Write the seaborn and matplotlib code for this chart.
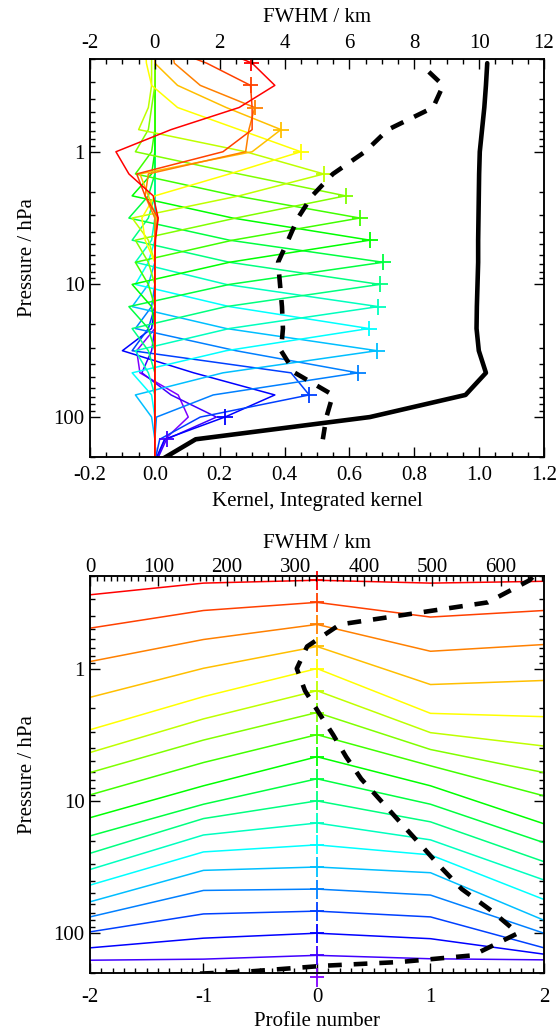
import colorsys
import numpy as np
import pandas as pd
import matplotlib
matplotlib.use("Agg")
import matplotlib.pyplot as plt
import seaborn as sns
from matplotlib.ticker import FixedLocator, MultipleLocator, NullFormatter, FormatStrFormatter, LogLocator

# ---------------- data: top panel (averaging kernels) ----------------
# kernel pressure grid (hPa), retrieval levels k = -5 .. 15
ak_pressure = [0.147, 0.215, 0.316, 0.464, 0.681, 1.0, 1.47, 2.15, 3.16, 4.64, 6.81,
               10.0, 14.7, 21.5, 31.6, 46.4, 68.1, 100.0, 147.0, 215.0, 316.0]
# nominal levels of the kernels (k = -4 .. 14)
kernel_levels = [0.215, 0.316, 0.464, 0.681, 1.0, 1.47, 2.15, 3.16, 4.64, 6.81,
                 10.0, 14.7, 21.5, 31.6, 46.4, 68.1, 100.0, 147.0, 215.0]

ak_k_m4 = [0.14, 0.30, 0.37, 0.26, 0.05, -0.12, -0.08, -0.005, 0.01, 0.002, 0, 0, 0, 0, 0, 0, 0, 0, 0, 0, 0]
ak_k_m3 = [-0.02, 0.16, 0.295, 0.30, 0.30, 0.21, -0.056, -0.03, 0.01, 0.0, 0, 0, 0, 0, 0, 0, 0, 0, 0, 0, 0]
ak_k_m2 = [0.05, 0.06, 0.14, 0.308, 0.29, 0.28, -0.02, -0.03, 0.0, 0.0, 0, 0, 0, 0, 0, 0, 0, 0, 0, 0, 0]
ak_k_m1 = [0.0, 0.0, 0.07, 0.22, 0.389, 0.30, -0.046, -0.02, 0.005, 0.0, 0, 0, 0, 0, 0, 0, 0, 0, 0, 0, 0]
ak_k_0 = [-0.03, -0.026, -0.01, 0.07, 0.26, 0.45, 0.23, 0.0, -0.04, -0.03, 0.0, 0, 0, 0, 0, 0, 0, 0, 0, 0, 0]
ak_k_1 = [-0.01, -0.01, -0.01, -0.02, -0.05, 0.28, 0.521, 0.26, -0.07, -0.02, 0.0, 0, 0, 0, 0, 0, 0, 0, 0, 0, 0]
ak_k_2 = [0, 0, 0, -0.01, -0.02, -0.06, 0.26, 0.588, 0.25, -0.06, -0.02, 0, 0, 0, 0, 0, 0, 0, 0, 0, 0]
ak_k_3 = [0, 0, 0, 0, 0, -0.01, -0.06, 0.25, 0.632, 0.24, -0.06, -0.02, 0, 0, 0, 0, 0, 0, 0, 0, 0]
ak_k_4 = [0, 0, 0, 0, 0, 0, -0.01, -0.07, 0.24, 0.663, 0.23, -0.07, -0.01, 0, 0, 0, 0, 0, 0, 0, 0]
ak_k_5 = [0, 0, 0, 0, 0, 0, 0, -0.02, -0.08, 0.23, 0.704, 0.23, -0.08, -0.02, 0, 0, 0, 0, 0, 0, 0]
ak_k_6 = [0, 0, 0, 0, 0, 0, 0, 0, -0.02, -0.07, 0.23, 0.694, 0.22, -0.07, -0.02, 0, 0, 0, 0, 0, 0]
ak_k_7 = [0, 0, 0, 0, 0, 0, 0, 0, 0, -0.01, -0.06, 0.22, 0.689, 0.23, -0.06, -0.02, 0, 0, 0, 0, 0]
ak_k_8 = [0, 0, 0, 0, 0, 0, 0, 0, 0, 0, -0.02, -0.06, 0.23, 0.660, 0.22, -0.07, -0.01, 0, 0, 0, 0]
ak_k_9 = [0, 0, 0, 0, 0, 0, 0, 0, 0, 0, 0, -0.02, -0.07, 0.22, 0.685, 0.21, -0.06, -0.01, 0, 0, 0]
ak_k_10 = [0, 0, 0, 0, 0, 0, 0, 0, 0, 0, 0, 0, -0.01, -0.06, 0.25, 0.626, 0.18, 0.005, 0.0, 0, 0]
ak_k_11 = [0, 0, 0, 0, 0, 0, 0, 0, 0, 0, 0, 0, 0, -0.02, -0.07, 0.42, 0.476, 0.14, 0.015, 0.0, 0]
ak_k_12 = [0, 0, 0, 0, 0, 0, 0, 0, 0, 0, 0, 0, 0, -0.01, -0.10, 0.12, 0.37, 0.216, 0.03, 0.0, 0]
ak_k_13 = [0, 0, 0, 0, 0, 0, 0, 0, 0, 0, 0, 0, 0, 0, -0.01, -0.04, 0.05, 0.19, 0.036, 0.005, 0]
ak_k_14 = [0, 0, 0, 0, 0, 0, 0, 0, 0, 0, 0, 0, 0, 0, -0.056, -0.046, 0.072, 0.103, 0.031, 0.003, 0]

kernels = [ak_k_m4, ak_k_m3, ak_k_m2, ak_k_m1, ak_k_0, ak_k_1, ak_k_2, ak_k_3, ak_k_4,
           ak_k_5, ak_k_6, ak_k_7, ak_k_8, ak_k_9, ak_k_10, ak_k_11, ak_k_12, ak_k_13, ak_k_14]

# diagonal (cross) values, k = -4 .. 13
cross_value = [0.298, 0.295, 0.308, 0.389, 0.45, 0.521, 0.588, 0.632, 0.663, 0.704,
               0.694, 0.689, 0.660, 0.685, 0.626, 0.476, 0.216, 0.036]

# integrated kernel, k = -4 .. 14
integrated_kernel = [1.025, 1.021, 1.016, 1.009, 1.002, 1.000, 0.999, 0.998, 0.997, 0.997,
                     0.995, 0.993, 0.992, 0.999, 1.021, 0.958, 0.663, 0.126, 0.012]

# vertical resolution (FWHM, km) for the top panel
fwhm_top_p = [0.25, 0.316, 0.464, 0.681, 1.0, 1.47, 2.15, 3.16, 4.64, 6.81,
              10.0, 14.7, 21.5, 31.6, 46.4, 68.1, 100.0, 147.0]
fwhm_top_km = [8.45, 8.89, 8.58, 7.19, 6.48, 5.49, 4.85, 4.41, 4.11, 3.80,
               3.86, 3.92, 3.95, 3.89, 4.32, 5.49, 5.29, 5.18]

# ---------------- data: bottom panel (horizontal) ----------------
profile_numbers = [-2, -1, 0, 1, 2]
lev_prof_m2 = [0.277, 0.495, 0.885, 1.65, 2.90, 4.31, 6.11, 9.01, 13.4, 18.4,
               24.9, 33.0, 43.3, 57.9, 75.3, 97.7, 129.0, 160.0]
lev_prof_m1 = [0.226, 0.364, 0.603, 0.995, 1.63, 2.40, 3.47, 5.13, 7.69, 10.6,
               13.6, 18.1, 24.3, 33.5, 47.5, 71.5, 109.0, 157.0]
lev_prof_0 = [0.215, 0.316, 0.464, 0.681, 1.0, 1.47, 2.15, 3.16, 4.64, 6.81,
              10.0, 14.7, 21.5, 31.6, 46.4, 68.1, 100.0, 147.0]
lev_prof_p1 = [0.226, 0.408, 0.740, 1.32, 2.18, 3.05, 4.09, 5.43, 7.69, 10.6,
               14.4, 19.7, 25.6, 34.9, 51.5, 75.3, 110.0, 156.0]
lev_prof_p2 = [0.219, 0.364, 0.658, 1.23, 2.31, 3.85, 6.11, 9.16, 14.9, 20.7,
               28.8, 39.6, 55.6, 79.8, 100.0, 129.0, 144.0, 159.0]

fwhm_bot_p = [0.147, 0.215, 0.316, 0.464, 0.681, 1.0, 1.47, 2.15, 3.16, 4.64, 6.81,
              10.0, 14.7, 21.5, 31.6, 46.4, 68.1, 100.0, 147.0, 165.0, 176.0, 194.0, 208.0]
fwhm_bot_km = [672, 642, 581, 365, 317, 302, 314, 334, 355, 374, 396,
               425, 454, 483, 512, 543, 587, 625, 559, 453, 343, 236, 107]

# ---------------- style ----------------
sns.set_theme(style="white")
plt.rcParams['font.family'] = ['Liberation Serif', 'DejaVu Serif']
plt.rcParams['axes.unicode_minus'] = False
plt.rcParams['axes.edgecolor'] = 'black'
plt.rcParams['text.color'] = 'black'
plt.rcParams['axes.labelcolor'] = 'black'
plt.rcParams['xtick.color'] = 'black'
plt.rcParams['ytick.color'] = 'black'

FS = 15
n_k = len(kernel_levels)
colors = [colorsys.hsv_to_rgb(15.0 * i / 360.0, 1.0, 1.0) for i in range(n_k)]
level_ids = list(range(-4, 15))
palette = {lv: colors[i] for i, lv in enumerate(level_ids)}

fig = plt.figure(figsize=(5.6, 10.3), dpi=100)
ax1 = fig.add_axes([0.1607, 0.5563, 0.8107, 0.3864])
ax2 = fig.add_axes([0.1607, 0.0553, 0.8107, 0.3854])


def style_axes(ax, xlabel_bottom, xpad, xlabelpad):
    ax.set_yscale('log')
    ax.set_ylim(200, 0.2)
    ax.yaxis.set_major_locator(FixedLocator([1, 10, 100]))
    ax.yaxis.set_major_formatter(FormatStrFormatter('%g'))
    ax.yaxis.set_minor_locator(LogLocator(base=10, subs=np.arange(2, 10)))
    ax.yaxis.set_minor_formatter(NullFormatter())
    ax.tick_params(axis='both', which='both', direction='in', labelsize=FS,
                   top=False, right=True, left=True, bottom=True, width=1.0, pad=4)
    ax.tick_params(axis='x', which='both', pad=xpad)
    ax.tick_params(which='major', length=7)
    ax.tick_params(which='minor', length=3.5)
    for s in ax.spines.values():
        s.set_linewidth(1.1)
        s.set_color('black')
    ax.set_ylabel('Pressure / hPa', fontsize=FS, labelpad=12)
    ax.set_xlabel(xlabel_bottom, fontsize=FS, labelpad=xlabelpad)


def style_top(axt, pad, labelpad):
    axt.tick_params(axis='x', which='both', direction='in', labelsize=FS,
                    top=True, bottom=False, width=1.0, pad=pad)
    axt.tick_params(which='major', length=7)
    axt.tick_params(which='minor', length=3.5)
    axt.set_xlabel('FWHM / km', fontsize=FS, labelpad=labelpad)
    for s in axt.spines.values():
        s.set_linewidth(1.1)
        s.set_color('black')


# ---------------- top panel ----------------
style_axes(ax1, 'Kernel, Integrated kernel', 6.5, 5)
rows = []
for i, lv in enumerate(level_ids):
    for p, v in zip(ak_pressure, kernels[i]):
        rows.append({'level': lv, 'pressure': p, 'value': v})
df_ak = pd.DataFrame(rows)
sns.lineplot(data=df_ak, x='value', y='pressure', hue='level', palette=palette,
             hue_order=level_ids[::-1], sort=False, estimator=None, legend=False,
             linewidth=1.1, ax=ax1)

df_cross = pd.DataFrame({'value': cross_value, 'pressure': kernel_levels[:len(cross_value)],
                         'level': level_ids[:len(cross_value)]})
sns.scatterplot(data=df_cross, x='value', y='pressure', hue='level', palette=palette,
                marker='+', s=130, linewidth=1.3, legend=False, ax=ax1, zorder=4)

df_int = pd.DataFrame({'value': integrated_kernel, 'pressure': kernel_levels})
sns.lineplot(data=df_int, x='value', y='pressure', sort=False, estimator=None,
             color='black', linewidth=3.3, ax=ax1, zorder=5)

ax1.set_xlim(-0.2, 1.2)
ax1.xaxis.set_major_locator(MultipleLocator(0.2))
ax1.xaxis.set_minor_locator(MultipleLocator(0.05))
ax1.xaxis.set_major_formatter(FormatStrFormatter('%.1f'))
ax1.set_ylim(200, 0.2)

ax1t = ax1.twiny()
df_fw1 = pd.DataFrame({'fwhm': fwhm_top_km, 'pressure': fwhm_top_p})
sns.lineplot(data=df_fw1, x='fwhm', y='pressure', sort=False, estimator=None,
             color='black', linewidth=3.3, ax=ax1t, zorder=5)
ax1t.get_lines()[-1].set_linestyle((0, (3.0, 2.6)))
ax1t.set_xlim(-2, 12)
ax1t.xaxis.set_major_locator(MultipleLocator(2))
ax1t.xaxis.set_minor_locator(MultipleLocator(0.5))
ax1t.xaxis.set_major_formatter(FormatStrFormatter('%d'))
style_top(ax1t, 4, 9)
ax1t.set_ylim(200, 0.2)

# ---------------- bottom panel ----------------
style_axes(ax2, 'Profile number', 10.5, 4)
prof_lists = [lev_prof_m2, lev_prof_m1, lev_prof_0, lev_prof_p1, lev_prof_p2]
rows = []
for j, lv in enumerate(level_ids[:len(lev_prof_0)]):
    for pn, pl in zip(profile_numbers, prof_lists):
        rows.append({'level': lv, 'profile': pn, 'pressure': pl[j]})
df_h = pd.DataFrame(rows)
sns.lineplot(data=df_h, x='profile', y='pressure', hue='level', palette=palette,
             sort=False, estimator=None, legend=False, linewidth=1.1, ax=ax2)

df_c0 = pd.DataFrame({'profile': [0] * n_k, 'pressure': kernel_levels, 'level': level_ids})
sns.scatterplot(data=df_c0, x='profile', y='pressure', hue='level', palette=palette,
                marker='|', s=190, linewidth=1.3, legend=False, ax=ax2, zorder=4, clip_on=False)
sns.scatterplot(data=df_c0, x='profile', y='pressure', hue='level', palette=palette,
                marker='_', s=110, linewidth=1.3, legend=False, ax=ax2, zorder=4, clip_on=False)

ax2.set_xlim(-2, 2)
ax2.xaxis.set_major_locator(MultipleLocator(1))
ax2.xaxis.set_minor_locator(MultipleLocator(0.1))
ax2.xaxis.set_major_formatter(FormatStrFormatter('%d'))
ax2.set_ylim(200, 0.2)

ax2t = ax2.twiny()
df_fw2 = pd.DataFrame({'fwhm': fwhm_bot_km, 'pressure': fwhm_bot_p})
sns.lineplot(data=df_fw2, x='fwhm', y='pressure', sort=False, estimator=None,
             color='black', linewidth=3.3, ax=ax2t, zorder=5)
ax2t.get_lines()[-1].set_linestyle((0, (3.0, 2.6)))
ax2t.set_xlim(0, 663)
ax2t.xaxis.set_major_locator(MultipleLocator(100))
ax2t.xaxis.set_minor_locator(MultipleLocator(10))
ax2t.xaxis.set_major_formatter(FormatStrFormatter('%d'))
style_top(ax2t, -0.5, 7)
ax2t.set_ylim(200, 0.2)

fig.savefig('out.png', dpi=100)
